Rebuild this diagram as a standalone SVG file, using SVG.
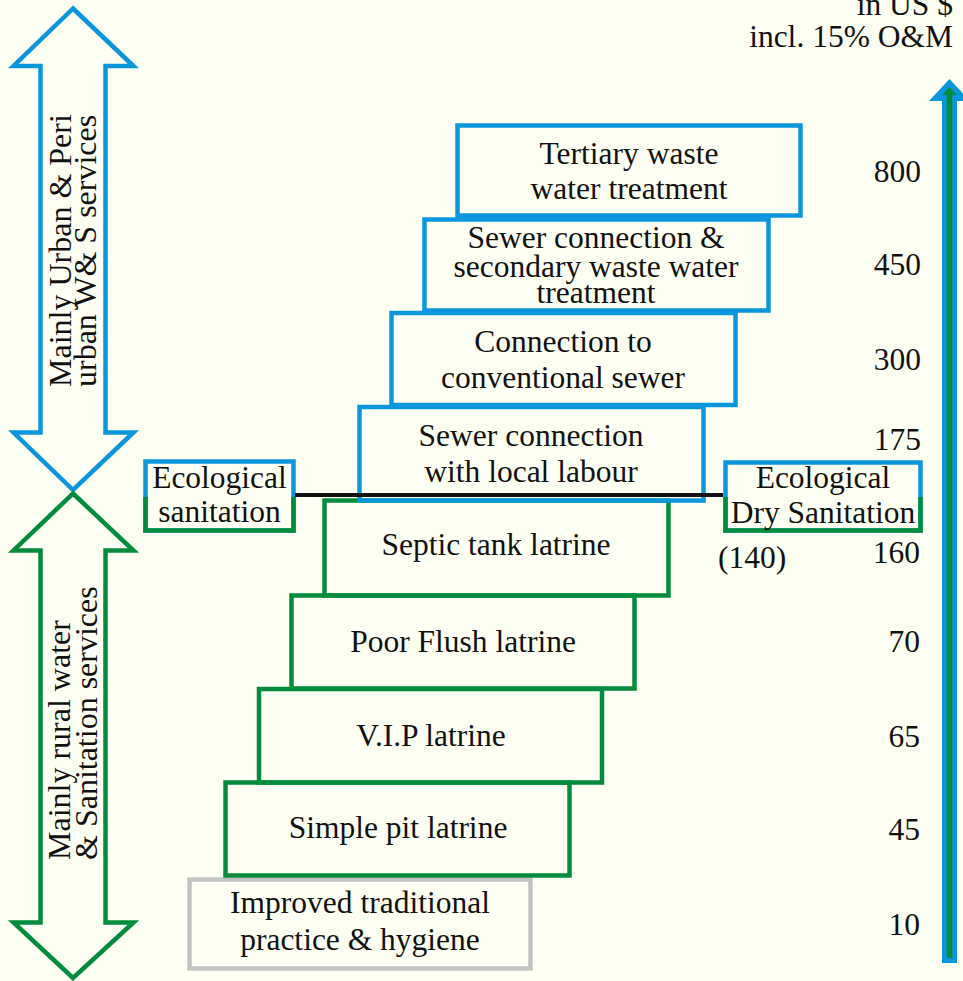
<svg xmlns="http://www.w3.org/2000/svg" width="963" height="981" viewBox="0 0 963 981">
<style>
text{font-family:"Liberation Serif","Times New Roman",serif;fill:#111;font-size:31.5px}
.c{text-anchor:middle}
.r{text-anchor:end}
.b{fill:none;stroke:#0a96dc;stroke-width:4.5}
.g{fill:none;stroke:#008c3c;stroke-width:4.5}
.gr{fill:none;stroke:#c3c3c3;stroke-width:4.5}
.big{font-size:32px}
</style>
<rect width="963" height="981" fill="#fefff3"/>
<g id="header">
<text class="r" x="953" y="15">in US $</text>
<text class="r" x="953" y="47">incl. 15% O&amp;M</text>
</g>
<g id="urban-arrow">
<polygon class="b" points="73,8.5 133.5,66 105.5,66 105.5,432.5 133.5,432.5 73,490 13.5,432.5 40.5,432.5 40.5,66 13.5,66"/>
<text class="big" transform="translate(71,387) rotate(-90)">Mainly Urban &amp; Peri</text>
<text class="big" transform="translate(96,387) rotate(-90)">urban W&amp; S services</text>
</g>
<g id="rural-arrow">
<polygon class="g" points="73,493.5 133.5,550.5 105.5,550.5 105.5,922.5 133.5,922.5 73,978 13.5,922.5 40.5,922.5 40.5,550.5 13.5,550.5"/>
<text class="big" transform="translate(70,860) rotate(-90)">Mainly rural water</text>
<text class="big" transform="translate(97,860) rotate(-90)">&amp; Sanitation services</text>
</g>
<g id="cost-arrow">
<polygon fill="#0a96dc" points="949.5,79 970,101 957,101 957,963 942,963 942,101 929,101"/>
<polygon fill="#008c3c" points="949.5,87 957,95 952.3,95 952.3,958 946.7,958 946.7,95 942,95"/>
</g>
<g id="improved-traditional">
<rect class="gr" x="189.5" y="879.5" width="341" height="89"/>
<text class="c" x="360" y="913">Improved traditional</text>
<text class="c" x="360" y="950">practice &amp; hygiene</text>
</g>
<g id="simple-pit">
<rect class="g" x="225.5" y="782.5" width="344" height="93"/>
<text class="c" x="398" y="838">Simple pit latrine</text>
</g>
<g id="vip">
<rect class="g" x="259" y="689" width="343" height="93.5"/>
<text class="c" x="431" y="746">V.I.P latrine</text>
</g>
<g id="poor-flush">
<rect class="g" x="291.5" y="595.5" width="343" height="93"/>
<text class="c" x="463" y="652">Poor Flush latrine</text>
</g>
<g id="septic">
<rect class="g" x="324.5" y="500.5" width="344" height="95"/>
<text class="c" x="496" y="555">Septic tank latrine</text>
</g>
<g id="sewer-local">
<rect class="b" x="359.5" y="407" width="344" height="93.5"/>
<text class="c" x="531" y="446">Sewer connection</text>
<text class="c" x="531" y="482">with local labour</text>
</g>
<g id="conventional">
<rect class="b" x="391.5" y="313" width="344" height="92"/>
<text class="c" x="563" y="352">Connection to</text>
<text class="c" x="563" y="388">conventional sewer</text>
</g>
<g id="secondary">
<rect class="b" x="424.5" y="219.5" width="344" height="91"/>
<text class="c" x="596" y="248">Sewer connection &amp;</text>
<text class="c" x="596" y="277">secondary waste water</text>
<text class="c" x="596" y="303">treatment</text>
</g>
<g id="tertiary">
<rect class="b" x="457.5" y="125.5" width="343" height="90"/>
<text class="c" x="629" y="164">Tertiary waste</text>
<text class="c" x="629" y="199">water treatment</text>
</g>
<g id="eco-sanitation">
<rect class="b" x="145.5" y="461.5" width="148" height="69" fill="#fefff3"/>
<polyline class="g" points="145.5,497 145.5,530.5 293.5,530.5 293.5,497"/>
<text class="c" x="219.5" y="488">Ecological</text>
<text class="c" x="219.5" y="522">sanitation</text>
</g>
<g id="eco-dry">
<rect class="b" x="725.5" y="462.5" width="195" height="68" fill="#fefff3"/>
<polyline class="g" points="725.5,497 725.5,530.5 920.5,530.5 920.5,497"/>
<text class="c" x="823" y="488">Ecological</text>
<text class="c" x="823" y="523">Dry Sanitation</text>
</g>
<g id="connectors">
<line x1="295" y1="495" x2="723" y2="495" stroke="#111" stroke-width="4"/>
</g>
<g id="costs">
<text class="r" x="921" y="182">800</text>
<text class="r" x="921" y="275">450</text>
<text class="r" x="921" y="370">300</text>
<text class="r" x="921" y="450">175</text>
<text class="r" x="920" y="563">160</text>
<text x="718" y="568">(140)</text>
<text class="r" x="920" y="652">70</text>
<text class="r" x="920" y="747">65</text>
<text class="r" x="920" y="840">45</text>
<text class="r" x="920" y="935">10</text>
</g>
</svg>
